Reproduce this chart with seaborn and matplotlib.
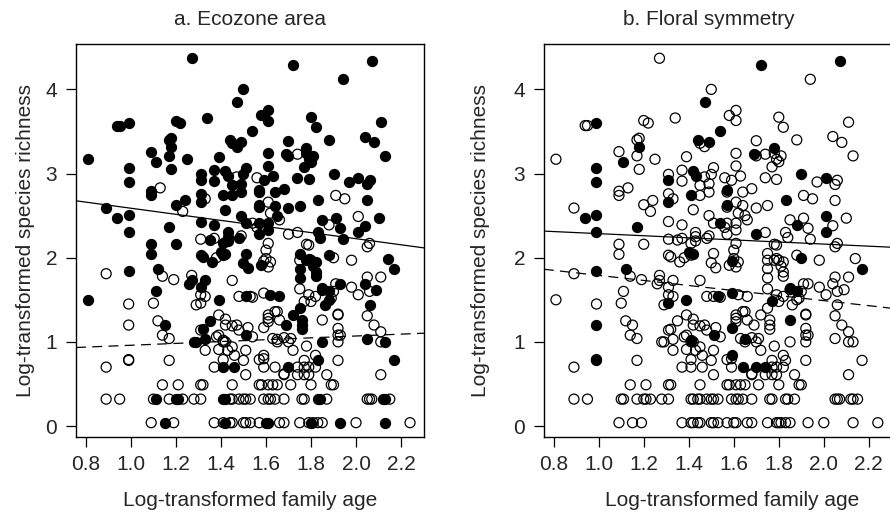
import numpy as np
import pandas as pd
import matplotlib
matplotlib.use("Agg")
import matplotlib.pyplot as plt
import seaborn as sns

# family age (log) for each family
family_age = [
    0.81, 1.27, 1.72, 2.07, 1.94, 1.50, 1.47, 0.94, 0.95, 0.99,
    1.20, 1.22, 1.34, 1.58, 1.61, 1.61, 1.54, 1.80, 1.82, 2.11,
    2.04, 2.08, 2.13, 1.88, 1.70, 1.44, 1.45, 1.47, 1.49, 1.17,
    1.18, 1.18, 1.17, 1.09, 1.11, 1.25, 1.39, 1.18, 0.99, 0.99,
    1.31, 1.31, 1.37, 1.37, 1.42, 1.43, 1.51, 1.50, 1.47, 1.56,
    1.59, 1.63, 1.61, 1.61, 1.69, 1.70, 1.74, 1.78, 1.78, 1.79,
    1.77, 1.81, 1.80, 1.74, 1.79, 1.90, 1.97, 2.01, 2.06, 2.05,
    1.13, 1.09, 1.09, 1.45, 1.49, 1.49, 1.57, 1.57, 1.64, 1.68,
    1.41, 1.45, 1.31, 1.31, 1.33, 1.91, 1.95, 1.20, 1.24, 1.23,
    1.61, 1.57, 1.57, 1.64, 1.75, 1.70, 1.83, 2.05, 0.89, 0.94,
    0.99, 0.99, 1.17, 1.09, 1.20, 1.31, 1.37, 1.42, 1.62, 1.65,
    1.66, 1.49, 1.51, 1.54, 1.56, 1.57, 1.61, 1.61, 1.57, 1.70,
    1.74, 1.85, 1.88, 1.91, 1.93, 2.01, 2.04, 2.10, 2.01, 1.83,
    1.84, 1.94, 2.06, 1.31, 1.35, 1.37, 1.43, 1.43, 1.43, 1.41,
    1.48, 1.49, 1.61, 1.78, 0.81, 0.89, 0.99, 1.09, 1.12, 1.11,
    1.14, 1.19, 0.99, 0.99, 1.10, 1.12, 1.15, 1.14, 1.17, 1.17,
    0.99, 0.99, 0.89, 0.89, 0.95, 1.27, 1.27, 1.26, 1.31, 1.32,
    1.36, 1.38, 1.40, 1.41, 1.42, 1.31, 1.33, 1.29, 1.31, 1.31,
    1.33, 1.39, 1.35, 1.31, 1.32, 1.28, 1.29, 1.33, 1.33, 1.39,
    1.42, 1.42, 1.45, 1.47, 1.39, 1.38, 1.41, 1.39, 1.43, 1.41,
    1.42, 1.45, 1.46, 1.41, 1.41, 1.46, 1.37, 1.51, 1.50, 1.48,
    1.45, 1.48, 1.51, 1.53, 1.54, 1.50, 1.51, 1.52, 1.52, 1.51,
    1.54, 1.51, 1.45, 1.57, 1.59, 1.58, 1.59, 1.60, 1.60, 1.61,
    1.62, 1.59, 1.62, 1.66, 1.61, 1.61, 1.61, 1.59, 1.64, 1.65,
    1.66, 1.69, 1.63, 1.65, 1.68, 1.71, 1.65, 1.70, 1.72, 1.59,
    1.59, 1.64, 1.68, 1.68, 1.70, 1.57, 1.58, 1.61, 1.63, 1.65,
    1.71, 1.74, 1.74, 1.77, 1.79, 1.77, 1.79, 1.82, 1.82, 1.78,
    1.77, 1.80, 1.85, 1.83, 1.85, 1.72, 1.75, 1.76, 1.76, 1.76,
    1.75, 1.75, 1.75, 1.75, 1.75, 1.78, 1.79, 1.80, 1.82, 1.81,
    1.82, 1.82, 1.79, 1.77, 1.79, 1.80, 1.82, 1.85, 1.85, 1.86,
    1.89, 1.88, 1.88, 1.88, 1.90, 1.91, 1.93, 1.90, 1.92, 1.92,
    1.92, 1.92, 1.92, 1.92, 1.87, 1.89, 1.90, 1.93, 1.98, 1.98,
    2.01, 2.04, 2.05, 2.05, 2.06, 2.05, 2.06, 2.09, 2.08, 2.11,
    2.14, 2.17, 2.11, 2.11, 2.13, 2.05, 2.11, 2.17, 2.05, 2.06,
    2.07, 2.12, 2.13, 2.15, 2.13, 1.93, 2.00, 2.24, 1.14, 1.21,
    1.31, 1.32, 1.10, 1.11, 1.17, 1.20, 1.21, 1.23, 1.28, 1.31,
    1.41, 1.42, 1.44, 1.45, 1.48, 1.50, 1.51, 1.53, 1.59, 1.61,
    1.62, 1.64, 1.68, 1.76, 1.77, 1.83, 1.84, 1.87, 1.09, 1.15,
    1.19, 1.37, 1.41, 1.42, 1.44, 1.45, 1.50, 1.51, 1.53, 1.57,
    1.60, 1.61, 1.66, 1.68, 1.75, 1.79, 1.80, 1.81, 1.83, 1.85,
]

species_richness = [
    3.17, 4.37, 4.29, 4.34, 4.12, 4.00, 3.85, 3.57, 3.57, 3.60,
    3.63, 3.60, 3.66, 3.69, 3.75, 3.63, 3.50, 3.67, 3.55, 3.61,
    3.44, 3.37, 3.21, 3.40, 3.39, 3.40, 3.36, 3.32, 3.38, 3.40,
    3.42, 3.32, 3.21, 3.26, 3.14, 3.17, 3.20, 3.05, 3.07, 2.90,
    2.99, 2.92, 3.04, 2.91, 3.03, 2.97, 3.07, 2.99, 2.96, 2.95,
    2.92, 2.97, 3.09, 3.24, 3.23, 3.21, 3.23, 3.30, 3.24, 3.17,
    3.08, 3.21, 3.14, 2.95, 2.93, 2.99, 2.90, 2.95, 2.92, 2.87,
    2.83, 2.79, 2.74, 2.86, 2.88, 2.78, 2.81, 2.78, 2.78, 2.82,
    2.74, 2.74, 2.76, 2.66, 2.70, 2.74, 2.70, 2.63, 2.68, 2.55,
    2.66, 2.63, 2.60, 2.62, 2.62, 2.59, 2.68, 2.68, 2.59, 2.47,
    2.51, 2.30, 2.37, 2.16, 2.16, 2.43, 2.39, 2.57, 2.53, 2.50,
    2.45, 2.50, 2.41, 2.41, 2.36, 2.41, 2.41, 2.33, 2.28, 2.28,
    2.30, 2.45, 2.39, 2.47, 2.35, 2.49, 2.38, 2.47, 2.30, 2.30,
    2.24, 2.22, 2.17, 2.22, 2.21, 2.23, 2.30, 2.25, 2.20, 2.17,
    2.23, 2.26, 2.17, 2.16, 1.50, 1.81, 1.84, 2.04, 1.87, 1.60,
    1.78, 1.74, 1.45, 1.20, 1.46, 1.25, 1.20, 1.08, 1.04, 0.78,
    0.78, 0.79, 0.70, 0.32, 0.32, 1.79, 1.73, 1.69, 2.03, 2.01,
    1.95, 2.00, 2.07, 2.03, 2.05, 1.65, 1.73, 1.44, 1.46, 1.56,
    1.54, 1.50, 1.25, 1.14, 1.15, 1.00, 1.00, 1.03, 0.90, 1.32,
    1.27, 1.20, 1.19, 1.20, 1.08, 1.06, 1.02, 0.91, 0.90, 1.00,
    1.00, 0.94, 0.84, 0.79, 0.70, 0.70, 0.70, 0.90, 0.78, 1.14,
    1.73, 1.54, 1.54, 1.54, 1.53, 1.94, 2.05, 1.88, 1.17, 1.08,
    1.06, 0.61, 0.49, 0.79, 0.80, 1.91, 1.96, 2.09, 1.99, 1.89,
    1.95, 1.58, 1.56, 1.54, 1.32, 1.28, 1.24, 1.17, 1.36, 1.36,
    1.26, 1.20, 1.04, 1.03, 1.05, 1.04, 1.00, 1.00, 0.90, 0.84,
    0.70, 0.70, 0.61, 0.62, 0.70, 0.49, 0.49, 0.49, 0.49, 0.49,
    0.49, 0.70, 0.61, 0.61, 0.61, 0.70, 0.70, 0.70, 0.84, 0.95,
    0.78, 0.49, 1.00, 0.78, 1.26, 1.32, 1.40, 1.26, 1.20, 1.15,
    1.63, 1.76, 1.87, 2.05, 1.97, 1.97, 1.99, 1.97, 1.95, 1.90,
    1.83, 1.78, 2.15, 1.48, 1.56, 1.48, 1.54, 1.64, 1.62, 1.44,
    1.52, 1.50, 1.60, 2.03, 2.00, 1.69, 1.69, 1.60, 1.32, 1.33,
    1.16, 1.08, 1.00, 0.78, 0.61, 0.49, 0.49, 1.08, 1.97, 1.65,
    1.56, 1.69, 1.77, 2.13, 1.44, 1.31, 1.60, 1.62, 1.20, 1.77,
    1.99, 1.87, 1.12, 1.00, 1.00, 1.04, 0.61, 0.78, 0.32, 0.32,
    0.32, 0.32, 0.32, 0.32, 0.04, 0.04, 0.04, 0.04, 0.49, 0.49,
    0.49, 0.49, 0.32, 0.32, 0.32, 0.32, 0.32, 0.32, 0.32, 0.32,
    0.32, 0.32, 0.32, 0.32, 0.32, 0.32, 0.32, 0.32, 0.32, 0.32,
    0.32, 0.32, 0.32, 0.32, 0.32, 0.32, 0.32, 0.32, 0.04, 0.04,
    0.04, 0.04, 0.04, 0.04, 0.04, 0.04, 0.04, 0.04, 0.04, 0.04,
    0.04, 0.04, 0.04, 0.04, 0.04, 0.04, 0.04, 0.04, 0.04, 0.04,
]

# 1 = filled symbol in panel a (ecozone area)
ecozone_group = [
    1, 1, 1, 1, 1, 1, 1, 1, 1, 1,
    1, 1, 1, 1, 1, 1, 1, 1, 1, 1,
    1, 1, 1, 1, 1, 1, 1, 1, 1, 1,
    1, 1, 1, 1, 1, 1, 1, 1, 1, 1,
    1, 1, 1, 1, 1, 1, 1, 1, 0, 0,
    1, 1, 1, 1, 1, 1, 0, 1, 1, 1,
    1, 1, 1, 1, 1, 1, 1, 1, 1, 1,
    0, 1, 1, 1, 1, 1, 1, 1, 1, 1,
    1, 1, 1, 1, 0, 0, 0, 1, 1, 0,
    0, 1, 1, 1, 1, 1, 1, 1, 1, 1,
    1, 1, 1, 1, 1, 1, 1, 1, 0, 1,
    0, 1, 1, 0, 0, 1, 1, 1, 1, 0,
    0, 1, 0, 1, 1, 0, 1, 1, 1, 1,
    1, 1, 0, 0, 1, 0, 1, 1, 1, 1,
    1, 0, 0, 0, 1, 0, 1, 1, 1, 1,
    0, 0, 0, 0, 0, 0, 1, 0, 0, 0,
    0, 0, 0, 0, 0, 0, 1, 1, 1, 1,
    1, 0, 1, 1, 1, 1, 1, 0, 0, 0,
    0, 1, 1, 0, 1, 1, 1, 1, 0, 0,
    0, 0, 0, 0, 0, 0, 0, 0, 0, 0,
    0, 0, 0, 0, 1, 1, 0, 0, 0, 0,
    0, 0, 1, 0, 0, 1, 1, 1, 0, 1,
    0, 0, 0, 0, 0, 1, 0, 0, 0, 0,
    0, 0, 1, 1, 0, 0, 0, 0, 0, 0,
    0, 1, 0, 0, 0, 0, 0, 0, 0, 0,
    0, 0, 0, 0, 1, 0, 0, 0, 0, 0,
    0, 0, 0, 0, 0, 0, 0, 0, 0, 0,
    0, 0, 1, 1, 0, 1, 1, 1, 1, 1,
    0, 1, 1, 1, 0, 1, 1, 0, 1, 1,
    1, 1, 0, 0, 0, 0, 0, 1, 1, 1,
    0, 1, 1, 1, 0, 0, 1, 0, 0, 0,
    0, 0, 0, 0, 0, 0, 0, 0, 0, 0,
    0, 1, 0, 0, 1, 0, 0, 1, 0, 0,
    1, 1, 0, 0, 1, 1, 0, 1, 0, 0,
    0, 1, 1, 0, 1, 1, 0, 0, 0, 0,
    0, 0, 0, 1, 0, 1, 1, 0, 0, 0,
    1, 1, 0, 0, 0, 0, 0, 0, 0, 0,
    0, 0, 0, 0, 0, 1, 1, 0, 0, 1,
    0, 0, 0, 1, 0, 0, 0, 0, 0, 0,
    1, 1, 0, 0, 0, 0, 1, 0, 0, 0,
]

# 1 = filled symbol in panel b (floral symmetry)
symmetry_group = [
    0, 0, 1, 1, 0, 0, 1, 0, 0, 1,
    0, 0, 0, 0, 0, 0, 1, 0, 0, 0,
    0, 0, 0, 0, 0, 1, 0, 0, 1, 0,
    0, 1, 0, 0, 1, 0, 0, 0, 1, 1,
    0, 1, 0, 0, 1, 1, 0, 0, 0, 0,
    0, 0, 0, 0, 1, 0, 0, 1, 0, 0,
    0, 0, 0, 0, 0, 1, 0, 1, 0, 0,
    0, 0, 0, 0, 0, 0, 1, 0, 0, 0,
    1, 0, 0, 1, 0, 0, 0, 0, 0, 0,
    0, 1, 0, 0, 0, 0, 1, 0, 0, 1,
    1, 1, 1, 0, 0, 0, 0, 0, 0, 0,
    0, 0, 0, 1, 0, 0, 0, 0, 0, 1,
    0, 0, 1, 0, 0, 1, 0, 0, 1, 0,
    0, 0, 0, 0, 0, 0, 0, 0, 0, 0,
    0, 0, 0, 0, 0, 0, 1, 0, 1, 0,
    0, 0, 0, 1, 0, 0, 0, 0, 0, 0,
    1, 0, 0, 0, 0, 0, 0, 0, 0, 0,
    0, 0, 1, 0, 1, 0, 0, 0, 1, 0,
    0, 1, 0, 0, 0, 0, 0, 0, 0, 0,
    0, 0, 0, 0, 0, 0, 1, 0, 0, 0,
    0, 0, 0, 0, 0, 0, 0, 0, 0, 0,
    0, 0, 0, 1, 0, 0, 0, 0, 0, 1,
    0, 0, 0, 0, 0, 0, 1, 0, 0, 0,
    0, 1, 0, 0, 0, 0, 0, 1, 0, 0,
    0, 0, 0, 1, 0, 0, 0, 0, 0, 1,
    0, 1, 0, 0, 1, 0, 0, 0, 0, 0,
    0, 1, 0, 0, 0, 0, 0, 0, 0, 0,
    0, 0, 0, 0, 1, 0, 0, 0, 0, 0,
    0, 0, 0, 0, 0, 0, 0, 0, 0, 0,
    0, 0, 0, 1, 0, 0, 0, 1, 0, 0,
    0, 0, 1, 0, 1, 0, 0, 0, 0, 0,
    0, 0, 0, 0, 0, 0, 0, 0, 0, 0,
    0, 0, 0, 0, 0, 0, 0, 0, 0, 0,
    0, 1, 0, 0, 0, 0, 0, 0, 0, 0,
    0, 0, 0, 0, 0, 0, 0, 0, 0, 0,
    0, 0, 0, 0, 0, 0, 0, 0, 0, 0,
    0, 0, 0, 0, 0, 0, 0, 0, 0, 0,
    0, 0, 0, 0, 0, 0, 0, 0, 0, 0,
    0, 0, 0, 0, 0, 0, 0, 0, 0, 0,
    0, 0, 0, 0, 0, 0, 0, 0, 0, 0,
]

# fitted lines (intercept, slope): solid = filled group, dashed = open group
ecozone_intercepts = [2.95, 0.85]
ecozone_slopes = [-0.362, 0.11]
symmetry_intercepts = [2.41, 2.09]
symmetry_slopes = [-0.124, -0.30]

panel_titles = ["a. Ecozone area", "b. Floral symmetry"]
x_label = "Log-transformed family age"
y_label = "Log-transformed species richness"
x_ticks = [0.8, 1.0, 1.2, 1.4, 1.6, 1.8, 2.0, 2.2]
y_ticks = [0, 1, 2, 3, 4]

df = pd.DataFrame({
    "age": family_age,
    "rich": species_richness,
    "eco": ecozone_group,
    "sym": symmetry_group,
})

sns.set_style("ticks")
plt.rcParams["font.family"] = ["Liberation Sans", "DejaVu Sans"]
plt.rcParams["font.size"] = 15

fig = plt.figure(figsize=(8.9, 5.12), dpi=100)
ax_a = fig.add_axes([0.0854, 0.147, 0.391, 0.768])
ax_b = fig.add_axes([0.611, 0.147, 0.391, 0.768])

panels = [
    (ax_a, "eco", ecozone_intercepts, ecozone_slopes, 0.5, 0.5, -0.145),
    (ax_b, "sym", symmetry_intercepts, symmetry_slopes, 0.475, 0.542, -0.183),
]

for i, (ax, col, ints, slopes, tx, lx, ly) in enumerate(panels):
    open_pts = df[df[col] == 0]
    full_pts = df[df[col] == 1]
    sns.scatterplot(data=open_pts, x="age", y="rich", ax=ax, s=52,
                    facecolor="none", edgecolor="black", linewidth=0.9, zorder=3)
    sns.scatterplot(data=full_pts, x="age", y="rich", ax=ax, s=52,
                    color="black", edgecolor="black", linewidth=0.9, zorder=4)
    ax.axline((0, ints[0]), slope=slopes[0], color="black", lw=0.9, zorder=2)
    ax.axline((0, ints[1]), slope=slopes[1], color="black", lw=0.9,
              linestyle=(0, (8, 5)), zorder=2)

    ax.set_xlim(0.756, 2.302)
    ax.set_ylim(-0.127, 4.545)
    ax.set_xticks(x_ticks)
    ax.set_xticklabels([f"{t:.1f}" for t in x_ticks])
    ax.set_yticks(y_ticks)
    ax.tick_params(direction="out", length=7.5, width=0.9, pad=6, labelsize=15,
                   color="black")
    for sp in ax.spines.values():
        sp.set_visible(True)
        sp.set_color("black")
        sp.set_linewidth(1.0)

    ax.set_title(panel_titles[i], fontsize=15, pad=13.5, x=tx)
    ax.set_xlabel(x_label, fontsize=15)
    ax.xaxis.set_label_coords(lx, -0.161)
    ax.xaxis.label.set_va("center")
    ax.set_ylabel(y_label, fontsize=15)
    ax.yaxis.set_label_coords(ly, 0.5)
    ax.yaxis.label.set_va("center")

fig.savefig("out.png", dpi=100)
